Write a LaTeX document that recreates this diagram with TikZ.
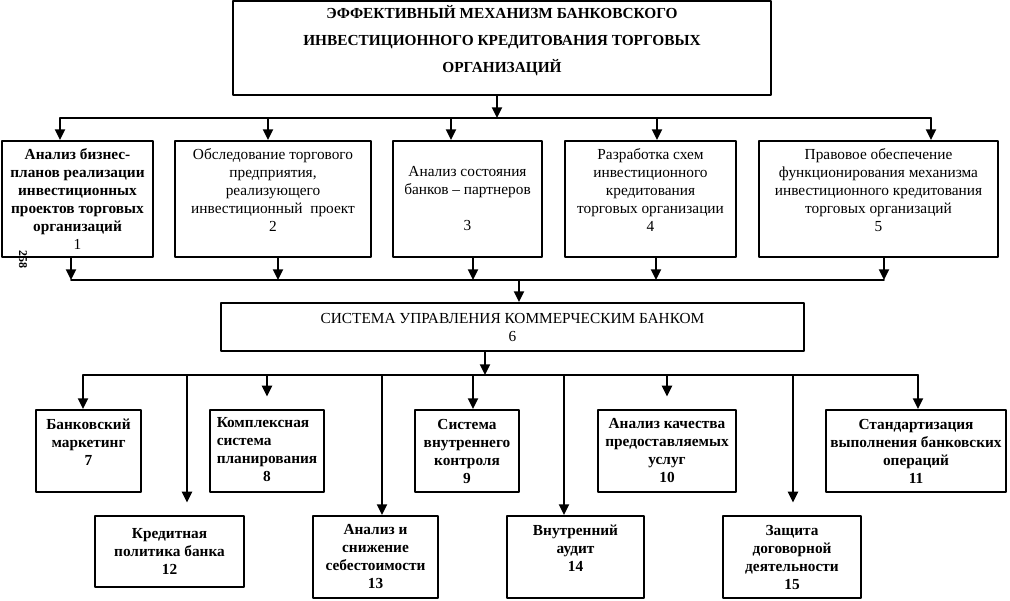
\documentclass[tikz,border=0pt]{standalone}
\usepackage{fontspec}
\setmainfont{Liberation Serif}
\usetikzlibrary{arrows.meta}

\begin{document}
\begin{tikzpicture}[line cap=round,line join=round,>={Triangle[length=8pt,width=7.5pt]},x=0.75pt,y=-0.75pt,
		blk/.style={draw,line width=1.4pt,inner sep=0pt,align=center,font=\fontsize{11.5}{13.5}\selectfont},
		bblk/.style={blk,font=\bfseries\fontsize{11.5}{13.5}\selectfont},
		conn/.style={line width=1.4pt},
		arr/.style={conn,->},
		short/.style={arr,shorten >=9.5pt}]
		\useasboundingbox (0,0) rectangle (1010,600);
		\node[bblk,minimum width=403.5pt,minimum height=70.5pt,font=\bfseries\fontsize{11.5}{20}\selectfont] (top) at (502,48) {ЭФФЕКТИВНЫЙ МЕХАНИЗМ БАНКОВСКОГО\\ИНВЕСТИЦИОННОГО КРЕДИТОВАНИЯ ТОРГОВЫХ\\ОРГАНИЗАЦИЙ\\[-6.5pt]\mbox{}};
		\node[bblk,minimum width=113.25pt,minimum height=87pt] (b1) at (77.5,199) {Анализ бизнес-\\планов реализации\\инвестиционных\\проектов торговых\\организаций\\\mdseries 1};
		\node[blk,minimum width=147pt,minimum height=87pt] (b2) at (273,199) {Обследование торгового\\предприятия,\\реализующего\\инвестиционный~ проект\\2\\\mbox{}};
		\node[blk,minimum width=111.75pt,minimum height=87pt] (b3) at (467.5,199) {Анализ состояния\\банков – партнеров\\\mbox{}\\3};
		\node[blk,minimum width=128.25pt,minimum height=87pt] (b4) at (650.5,199) {Разработка схем\\инвестиционного\\кредитования\\торговых организации\\4\\\mbox{}};
		\node[blk,minimum width=179.25pt,minimum height=87pt] (b5) at (878.5,199) {Правовое обеспечение\\функционирования механизма\\инвестиционного кредитования\\торговых организаций\\5\\\mbox{}};
		\node[blk,minimum width=437.25pt,minimum height=36pt] (b6) at (512.5,327) {СИСТЕМА УПРАВЛЕНИЯ КОММЕРЧЕСКИМ БАНКОМ\\6};
		\node[bblk,minimum width=78.75pt,minimum height=61.5pt] (b7) at (88.5,451) {Банковский\\маркетинг\\7\\\mbox{}};
		\node[bblk,minimum width=85.5pt,minimum height=61.5pt] (b8) at (267,451) {\begin{tabular}{@{}l@{}}Комплексная\\система\\планирования\\\multicolumn{1}{@{}c@{}}{8}\end{tabular}};
		\node[bblk,minimum width=78pt,minimum height=61.5pt] (b9) at (467,451) {Система\\внутреннего\\контроля\\9};
		\node[bblk,minimum width=103.5pt,minimum height=61.5pt] (b10) at (667,451) {Анализ качества\\предоставляемых\\услуг\\10};
		\node[bblk,minimum width=135pt,minimum height=61.5pt] (b11) at (916,451) {Стандартизация\\выполнения банковских\\операций\\11};
		\node[bblk,minimum width=111.75pt,minimum height=53.25pt] (b12) at (169.5,551.5) {Кредитная\\политика банка\\12};
		\node[bblk,minimum width=93.75pt,minimum height=61.5pt] (b13) at (375.5,557) {Анализ и\\снижение\\себестоимости\\13};
		\node[bblk,minimum width=102.75pt,minimum height=61.5pt] (b14) at (575.5,557) {Внутренний\\аудит\\14\\\mbox{}};
		\node[bblk,minimum width=103.5pt,minimum height=61.5pt] (b15) at (792,557) {Защита\\договорной\\деятельности\\15};
		\node[font=\bfseries\fontsize{9}{9}\selectfont,rotate=-90] (pg) at (23,259) {258};
		\coordinate (s0) at (497,118);
		\draw[arr] (s0 |- top.south) -- (s0);
		\foreach \x/\b in {60/b1,268/b2,451/b3,657/b4,931/b5} {
			\coordinate (u\b) at (\x,118);
			\draw[arr] (u\b) -- (u\b |- \b.north);
		}
		\draw[conn] (ub1) -- (ub5);
		\foreach \x/\b in {71/b1,278/b2,473/b3,656/b4,884/b5} {
			\coordinate (d\b) at (\x,280);
			\draw[arr] (d\b |- \b.south) -- (d\b);
		}
		\draw[conn] (db1) -- (db5);
		\coordinate (m6) at (519,280);
		\draw[arr] (m6) -- (m6 |- b6.north);
		\coordinate (s6) at (485,375);
		\draw[arr] (s6 |- b6.south) -- (s6);
		\foreach \x/\b/\s in {83/b7/arr,187/b12/short,267/b8/short,382/b13/arr,473/b9/arr,564/b14/arr,667/b10/short,793/b15/short,918/b11/arr} {
			\coordinate (e\b) at (\x,375);
			\draw[\s] (e\b) -- (e\b |- \b.north);
		}
		\draw[conn] (eb7) -- (eb11);
	\end{tikzpicture}
\end{document}
